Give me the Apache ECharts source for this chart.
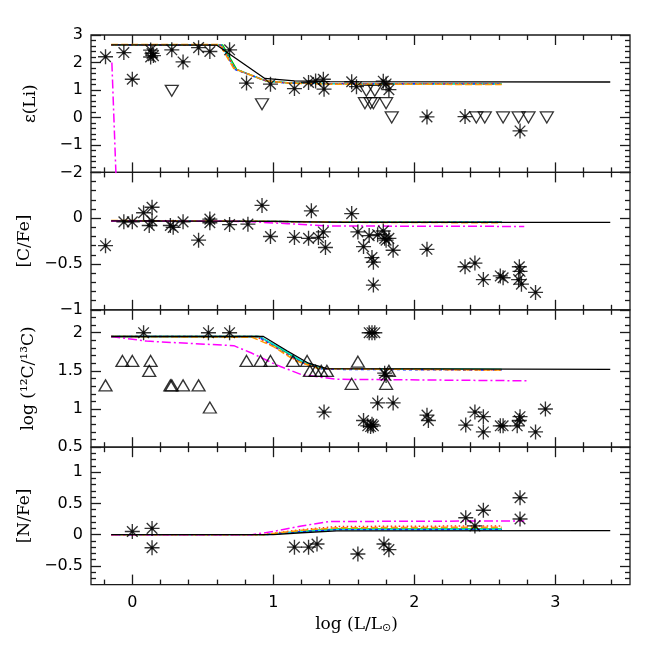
<!DOCTYPE html>
<html><head><meta charset="utf-8">
<script src="https://cdn.jsdelivr.net/npm/echarts@6/dist/echarts.min.js"></script>
<style>html,body{margin:0;padding:0;background:#fff}#c{width:654px;height:654px}</style>
</head><body><div id="c"></div>
<script>
// ---------- axis ranges & tick labels ----------
const X_MIN = -0.293, X_MAX = 3.53;
const xMajor = [0, 1, 2, 3];
const xLabels = [0, 1, 2, 3];
const panelNames = ['ε(Li)', '[C/Fe]', 'log (¹²C/¹³C)', '[N/Fe]'];
const yRanges = [[-2, 3], [-1, 0.5], [0.5, 2.3], [-0.8, 1.4]];
const yMajor = [[-2, -1, 0, 1, 2, 3], [-1, -0.5, 0, 0.5], [0.5, 1, 1.5, 2], [-0.5, 0, 0.5, 1]];
const yLabels = [[-2, -1, 0, 1, 2, 3], [-1, -0.5, 0], [0.5, 1, 1.5, 2], [-0.5, 0, 0.5, 1]];
const yMinorStep = [0.2, 0.1, 0.1, 0.1];

// ---------- observations: panel 1, epsilon(Li) ----------
const liStars = [[-0.19,2.21],[-0.06,2.36],[0.00,1.39],[0.13,2.45],[0.14,2.33],[0.15,2.25],[0.13,2.20],
  [0.28,2.46],[0.36,2.02],[0.47,2.54],[0.55,2.40],[0.69,2.46],[0.81,1.25],[0.98,1.21],[1.15,1.05],
  [1.25,1.27],[1.30,1.33],[1.355,1.39],[1.36,1.03],[1.556,1.30],[1.59,1.12],[1.78,1.32],[1.80,1.22],
  [1.82,1.01],[2.09,0.02],[2.36,0.03],[2.75,-0.49]];
const liLimits = [[0.28,0.97],[0.92,0.48],[1.66,0.97],[1.72,0.97],[1.65,0.52],[1.69,0.52],[1.71,0.52],
  [1.80,0.52],[1.84,0.0],[2.44,0.0],[2.50,0.0],[2.63,0.0],[2.74,0.0],[2.81,0.0],[2.94,0.0]];
// ---------- panel 2, [C/Fe] ----------
const cfeStars = [[-0.19,-0.30],[-0.06,-0.04],[0.00,-0.04],[0.08,0.06],[0.14,0.12],[0.14,-0.03],[0.12,-0.08],
  [0.27,-0.08],[0.29,-0.10],[0.36,-0.04],[0.47,-0.24],[0.55,-0.01],[0.55,-0.05],[0.69,-0.07],[0.82,-0.065],
  [0.92,0.14],[0.98,-0.20],[1.15,-0.21],[1.25,-0.22],[1.27,0.08],[1.32,-0.21],[1.355,-0.15],[1.37,-0.32],
  [1.556,0.05],[1.60,-0.15],[1.64,-0.31],[1.68,-0.19],[1.70,-0.43],[1.71,-0.48],[1.71,-0.73],[1.74,-0.18],
  [1.78,-0.14],[1.79,-0.22],[1.80,-0.24],[1.82,-0.22],[1.85,-0.35],[2.09,-0.34],[2.36,-0.53],[2.43,-0.49],
  [2.49,-0.67],[2.61,-0.63],[2.63,-0.65],[2.745,-0.53],[2.75,-0.58],[2.74,-0.67],[2.76,-0.72],[2.86,-0.81]];
// ---------- panel 3, log(12C/13C) ----------
const ratioStars = [[0.08,2.0],[0.54,2.0],[0.69,2.0],[1.36,0.96],[1.68,2.0],[1.70,2.0],[1.72,2.0],
  [1.79,1.47],[1.80,1.44],[1.74,1.08],[1.85,1.08],[1.64,0.85],[1.67,0.78],[1.69,0.77],[1.71,0.78],
  [1.70,0.80],[2.09,0.92],[2.10,0.85],[2.365,0.79],[2.43,0.96],[2.49,0.90],[2.49,0.70],[2.61,0.78],
  [2.63,0.78],[2.73,0.78],[2.745,0.85],[2.75,0.90],[2.86,0.70],[2.93,1.0]];
const ratioLimits = [[-0.19,1.31],[-0.07,1.63],[0.00,1.63],[0.13,1.63],[0.12,1.50],[0.27,1.31],[0.28,1.31],
  [0.36,1.31],[0.47,1.31],[0.55,1.02],[0.81,1.63],[0.91,1.63],[0.98,1.63],[1.14,1.63],[1.24,1.63],
  [1.26,1.50],[1.30,1.50],[1.34,1.50],[1.38,1.50],[1.556,1.33],[1.60,1.62],[1.80,1.33],[1.82,1.50]];
// ---------- panel 4, [N/Fe] ----------
const nfeStars = [[0.00,0.05],[0.14,0.10],[0.14,-0.21],[1.15,-0.20],[1.25,-0.20],[1.31,-0.15],[1.60,-0.31],
  [1.785,-0.15],[1.82,-0.24],[2.365,0.27],[2.43,0.14],[2.49,0.39],[2.75,0.59],[2.75,0.25]];

// ---------- models (order: black, cyan, green, blue, orange, red, magenta) ----------
const liBlack   = [[-0.15,2.64],[0.60,2.63],[0.94,1.42],[1.15,1.33],[1.40,1.30],[3.39,1.29]];
const liCyan    = [[-0.15,2.64],[0.63,2.64],[0.73,1.76],[0.95,1.33],[1.10,1.26],[1.40,1.23],[2.62,1.22]];
const liGreen   = [[-0.15,2.64],[0.64,2.64],[0.74,1.75],[0.95,1.32],[1.10,1.26],[1.40,1.23],[2.62,1.22]];
const liBlue    = [[-0.15,2.64],[0.63,2.63],[0.73,1.74],[0.96,1.31],[1.10,1.25],[1.40,1.23],[2.62,1.22]];
const liOrange  = [[-0.15,2.65],[0.62,2.65],[0.72,1.78],[0.94,1.34],[1.10,1.25],[1.40,1.21],[2.62,1.20]];
const liRed     = [[-0.15,2.64],[0.63,2.64],[0.73,1.76],[0.95,1.33],[1.10,1.26],[1.40,1.23],[2.62,1.22]];
const liMagenta = [[-0.145,2.0],[-0.115,-2.2]];

const cBlack   = [[-0.15,-0.03],[1.0,-0.035],[1.5,-0.045],[3.39,-0.045]];
const cCyan    = [[-0.15,-0.03],[1.0,-0.035],[1.5,-0.045],[2.62,-0.045]];
const cGreen   = [[-0.15,-0.03],[1.0,-0.035],[1.5,-0.04],[2.62,-0.042]];
const cBlue    = [[-0.15,-0.03],[1.0,-0.035],[1.5,-0.045],[2.62,-0.045]];
const cOrange  = [[-0.15,-0.025],[1.0,-0.035],[1.5,-0.045],[2.62,-0.05]];
const cRed     = [[-0.15,-0.03],[1.0,-0.035],[1.5,-0.045],[2.62,-0.045]];
const cMagenta = [[-0.15,-0.03],[0.8,-0.035],[1.1,-0.06],[1.4,-0.085],[2.78,-0.09]];

const rBlack   = [[-0.15,1.95],[0.93,1.95],[1.10,1.76],[1.25,1.60],[1.38,1.53],[3.39,1.52]];
const rCyan    = [[-0.15,1.95],[0.90,1.95],[1.05,1.80],[1.20,1.63],[1.35,1.53],[2.62,1.52]];
const rGreen   = [[-0.15,1.95],[0.90,1.95],[1.05,1.79],[1.20,1.62],[1.35,1.53],[2.62,1.52]];
const rBlue    = [[-0.15,1.95],[0.89,1.95],[1.04,1.78],[1.20,1.61],[1.35,1.52],[2.62,1.51]];
const rOrange  = [[-0.15,1.95],[0.85,1.94],[1.00,1.82],[1.15,1.64],[1.32,1.53],[2.62,1.51]];
const rRed     = [[-0.15,1.95],[0.88,1.95],[1.02,1.80],[1.18,1.62],[1.34,1.53],[2.62,1.51]];
const rMagenta = [[-0.15,1.95],[0.10,1.89],[0.72,1.83],[0.85,1.73],[1.02,1.58],[1.20,1.45],[1.45,1.39],[2.80,1.37]];

const nBlack   = [[-0.15,0],[1.00,0.0],[1.20,0.03],[1.45,0.06],[3.39,0.065]];
const nCyan    = [[-0.15,0],[0.95,0],[1.20,0.05],[1.45,0.08],[2.62,0.085]];
const nGreen   = [[-0.15,0],[0.95,0],[1.20,0.055],[1.45,0.09],[2.62,0.09]];
const nBlue    = [[-0.15,0],[0.95,0],[1.20,0.05],[1.45,0.08],[2.62,0.085]];
const nOrange  = [[-0.15,0],[0.93,0],[1.20,0.07],[1.45,0.11],[2.62,0.12]];
const nRed     = [[-0.15,0],[0.93,0],[1.20,0.08],[1.45,0.13],[2.62,0.14]];
const nMagenta = [[-0.15,0],[0.85,0],[1.00,0.05],[1.20,0.14],[1.40,0.21],[2.78,0.22]];

const panelModels = [
  [liBlack, liCyan, liGreen, liBlue, liOrange, liRed, liMagenta],
  [cBlack, cCyan, cGreen, cBlue, cOrange, cRed, cMagenta],
  [rBlack, rCyan, rGreen, rBlue, rOrange, rRed, rMagenta],
  [nBlack, nCyan, nGreen, nBlue, nOrange, nRed, nMagenta]
];
const panelStars = [liStars, cfeStars, ratioStars, nfeStars];
const panelUp = [[], [], ratioLimits, []];
const panelDown = [liLimits, [], [], []];

// ---------- styles ----------
const modelStyles = [
  {color:'#000000', type:'solid', width:1.3},
  {color:'#00e0e0', type:'solid', width:1.4},
  {color:'#00c800', type:'solid', width:1.4},
  {color:'#1030ff', type:[3,3], width:1.4},
  {color:'#ff9a00', type:[7,3], width:1.5},
  {color:'#ff2a2a', type:[1.5,2.5], width:1.5},
  {color:'#ff00ff', type:[9,3,2,3], width:1.5}
];
const drawOrder = [2,1,3,5,4,6,0];
const AX = '#1a1a1a';
const NUM_FONT = 'DejaVu Sans';
const TITLE_FONT = 'DejaVu Serif';
const STAR = 'path://M0,-10L0,10M-10,0L10,0M-7.07,-7.07L7.07,7.07M-7.07,7.07L7.07,-7.07M-1.8,-1.8L1.8,-1.8L1.8,1.8L-1.8,1.8Z';

function minors(min, max, step, majors) {
  const out = [];
  const n = Math.round((max - min) / step);
  for (let i = 0; i <= n; i++) {
    const v = Math.round((min + i * step) * 1000) / 1000;
    if (v <= min + 1e-9 || v >= max - 1e-9) continue;
    if (majors.some(m => Math.abs(m - v) < 1e-6)) continue;
    out.push(v);
  }
  return out;
}
const fmt = v => String(Math.round(v * 100) / 100).replace('-', '−');

const gridTop = 35, gridH = 137.4, gridLeft = 91, gridRight = 24;
const grids = [], xAxes = [], yAxes = [], series = [];
const nameGaps = [52, 47, 54, 57];

for (let g = 0; g < 4; g++) {
  grids.push({left: gridLeft, right: gridRight, top: gridTop + g * gridH, height: gridH,
    show: true, borderColor: AX, borderWidth: 1.3, backgroundColor: 'transparent', outerBoundsMode: 'none'});
  const xMin = minors(-0.4, 3.6, 0.2, xMajor).filter(v => v > X_MIN && v < X_MAX);
  const isBottom = g === 3;
  [['bottom', xMajor, 10], ['bottom', xMin, 5], ['top', xMajor, 10], ['top', xMin, 5]].forEach((d, k) => {
    const ax = {type:'value', gridIndex:g, position:d[0], min:X_MIN, max:X_MAX,
      axisLine:{show:false, onZero:false}, splitLine:{show:false},
      axisTick:{show:true, inside:true, length:d[2], customValues:d[1], lineStyle:{color:AX, width:1.3}},
      axisLabel:{show:false}};
    if (isBottom && k === 0) {
      ax.axisLabel = {show:true, customValues:xLabels, margin:10, color:'#000', fontFamily:NUM_FONT, fontSize:16, formatter: fmt};
      ax.name = 'log (L/L{s|⊙})';
      ax.nameLocation = 'middle';
      ax.nameGap = 30;
      ax.nameTextStyle = {color:'#000', fontFamily:TITLE_FONT, fontSize:17, padding:[0,8,0,0],
        rich:{s:{fontFamily:'DejaVu Sans', fontSize:11, color:'#000', padding:[8,0,0,0]}}};
    }
    xAxes.push(ax);
  });
  const [ymin, ymax] = yRanges[g];
  const yMin = minors(ymin, ymax, yMinorStep[g], yMajor[g]);
  [['left', yMajor[g], 10], ['left', yMin, 5], ['right', yMajor[g], 10], ['right', yMin, 5]].forEach((d, k) => {
    const ax = {type:'value', gridIndex:g, position:d[0], min:ymin, max:ymax,
      axisLine:{show:false, onZero:false}, splitLine:{show:false},
      axisTick:{show:true, inside:true, length:d[2], customValues:d[1], lineStyle:{color:AX, width:1.3}},
      axisLabel:{show:false}};
    if (k === 0) {
      ax.axisLabel = {show:true, customValues:yLabels[g], margin:8, color:'#000', fontFamily:NUM_FONT, fontSize:16, formatter: fmt};
      ax.name = panelNames[g];
      ax.nameLocation = 'middle';
      ax.nameGap = nameGaps[g];
      ax.nameRotate = 90;
      ax.nameTextStyle = {color:'#000', fontFamily:TITLE_FONT, fontSize:17};
    }
    yAxes.push(ax);
  });

  drawOrder.forEach(m => {
    const st = modelStyles[m];
    series.push({type:'line', xAxisIndex:4*g, yAxisIndex:4*g, data:panelModels[g][m], symbol:'none',
      lineStyle:{color:st.color, type:st.type, width:st.width}, clip:true, silent:true, z:2, animation:false});
  });
  series.push({type:'scatter', xAxisIndex:4*g, yAxisIndex:4*g, data:panelStars[g], symbol:STAR, symbolSize:15,
    itemStyle:{color:'#000', borderColor:'#000', borderWidth:1.35}, z:5, animation:false, silent:true});
  if (panelUp[g].length) series.push({type:'scatter', xAxisIndex:4*g, yAxisIndex:4*g, data:panelUp[g],
    symbol:'triangle', symbolSize:[13,11], itemStyle:{color:'rgba(0,0,0,0)', borderColor:'#000', borderWidth:1.3},
    z:5, animation:false, silent:true});
  if (panelDown[g].length) series.push({type:'scatter', xAxisIndex:4*g, yAxisIndex:4*g, data:panelDown[g],
    symbol:'triangle', symbolRotate:180, symbolSize:[13,11], itemStyle:{color:'rgba(0,0,0,0)', borderColor:'#000', borderWidth:1.3},
    z:5, animation:false, silent:true});
}

const chart = echarts.init(document.getElementById('c'), null, {renderer:'canvas'});
chart.setOption({animation:false, backgroundColor:'#fff', grid:grids, xAxis:xAxes, yAxis:yAxes, series:series});
</script></body></html>
